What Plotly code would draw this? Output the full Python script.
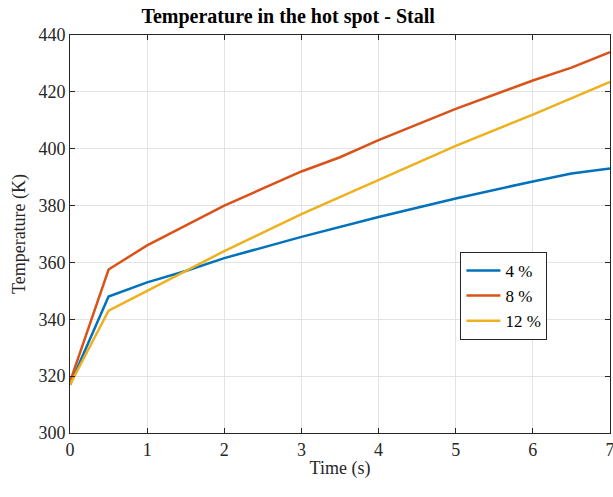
import plotly.graph_objects as go

t_4 = [0, 0.5, 1, 1.5, 2, 3, 4, 5, 6, 6.5, 7]
T_4 = [317, 348, 353, 357, 361.5, 369, 376, 382.5, 388.5, 391.3, 393]
t_8 = [0, 0.5, 1, 1.5, 2, 3, 3.5, 4, 5, 6, 6.5, 7]
T_8 = [318, 357.5, 366, 373, 380, 392, 397, 403, 414, 424, 428.5, 434]
t_12 = [0, 0.5, 1, 2, 3, 4, 5, 6, 7]
T_12 = [317, 343, 350, 364, 377, 389, 401, 412, 423.5]
names = ["4 %", "8 %", "12 %"]
colors = ["#0072BD", "#D95319", "#EDB120"]
x_ticks = [0, 1, 2, 3, 4, 5, 6, 7]
y_ticks = [300, 320, 340, 360, 380, 400, 420, 440]

fig = go.Figure()
for x, y, n, c in zip([t_4, t_8, t_12], [T_4, T_8, T_12], names, colors):
    fig.add_trace(go.Scatter(x=x, y=y, mode="lines", name=n,
                             line=dict(color=c, width=2.5)))

font = "Liberation Serif, Times New Roman, serif"
axis_common = dict(showgrid=True, gridcolor="#e3e3e3", gridwidth=1,
                   showline=True, linecolor="#262626", linewidth=1, mirror="ticks",
                   ticks="inside", ticklen=5, tickcolor="#262626",
                   tickfont=dict(family=font, size=18, color="#262626"),
                   zeroline=False, ticklabeloverflow="allow", automargin=False)
fig.update_layout(
    width=613, height=497,
    margin=dict(l=70, r=3, t=35, b=64, autoexpand=False),
    paper_bgcolor="white", plot_bgcolor="white",
    title=dict(text="<b>Temperature in the hot spot - Stall</b>", x=0.47, xanchor="center",
               xref="container", y=0.982, yanchor="top",
               font=dict(family=font, size=20, color="black")),
    xaxis=dict(range=[0, 7], tickvals=x_ticks, ticktext=[str(v) for v in x_ticks], **axis_common,
               title=dict(text="Time (s)", font=dict(family=font, size=18, color="#262626"),
                          standoff=2)),
    yaxis=dict(range=[300, 440], tickvals=y_ticks, ticktext=[str(v) for v in y_ticks], **axis_common,
               title=dict(text="Temperature (K)", font=dict(family=font, size=18, color="#262626"),
                          standoff=8)),
    legend=dict(x=0.723, y=0.455, xanchor="left", yanchor="top",
                bgcolor="white", bordercolor="#262626", borderwidth=1,
                font=dict(family=font, size=17, color="black"),
                tracegroupgap=0, itemwidth=34),
    showlegend=True,
)
fig.add_annotation(text="(a)", xref="paper", yref="paper", x=0.43, y=-0.205,
                   yanchor="top", showarrow=False,
                   font=dict(family=font, size=18, color="#262626"))
fig.write_html("out.html")
